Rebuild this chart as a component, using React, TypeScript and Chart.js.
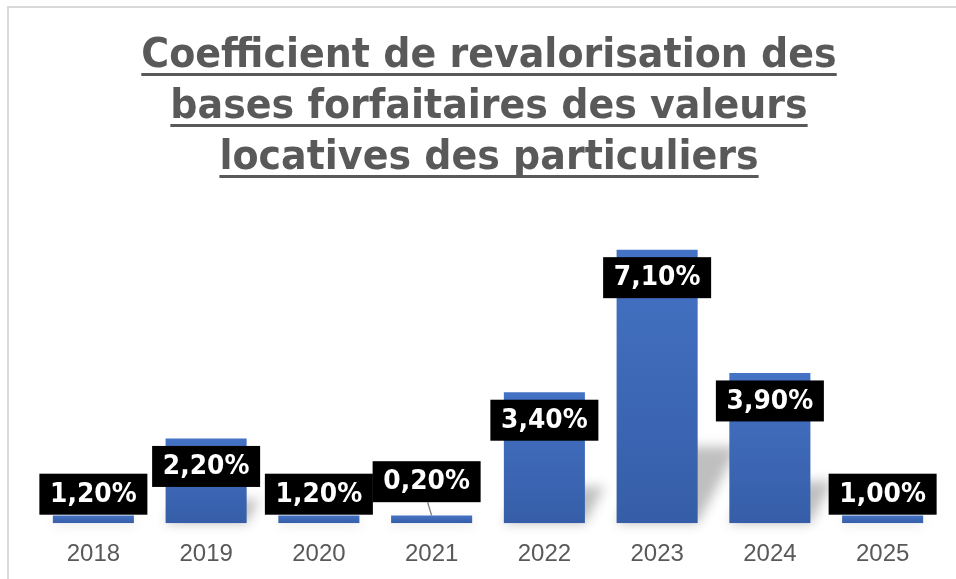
import React, { useEffect, useRef } from "react";
import { Chart, registerables } from "chart.js";

Chart.register(...registerables);

// ---- data ----
const years = ["2018", "2019", "2020", "2021", "2022", "2023", "2024", "2025"];
// bar heights as drawn in the reference (percent)
const barValues = [0.2, 2.2, 0.2, 0.2, 3.4, 7.1, 3.9, 0.2];
// label texts as shown in the reference
const labelTexts = ["1,20%", "2,20%", "1,20%", "0,20%", "3,40%", "7,10%", "3,90%", "1,00%"];
const titleLines = [
  "Coefficient de revalorisation des",
  "bases forfaitaires des valeurs",
  "locatives des particuliers",
];

const W = 956;
const H = 600;

const framePlugin = {
  id: "frameAndTitle",
  beforeDraw(chart: any) {
    const ctx = chart.ctx;
    ctx.save();
    ctx.fillStyle = "#ffffff";
    ctx.fillRect(0, 0, chart.width, chart.height);
    ctx.strokeStyle = "#D9D9D9";
    ctx.lineWidth = 2;
    ctx.strokeRect(8, 7, 2000, 2000);
    ctx.restore();
  },
  afterDraw(chart: any) {
    const ctx = chart.ctx;
    ctx.save();
    ctx.font = "bold 40px 'DejaVu Sans'";
    ctx.fillStyle = "#595959";
    ctx.textAlign = "center";
    ctx.textBaseline = "alphabetic";
    const cx = 489;
    const firstBaseline = 67;
    const lineH = 51;
    const sx = 0.95;
    titleLines.forEach((line, i) => {
      const y = firstBaseline + i * lineH;
      ctx.save();
      ctx.translate(cx, y);
      ctx.scale(sx, 1);
      ctx.fillText(line, 0, 0);
      const w = ctx.measureText(line).width;
      ctx.fillRect(-w / 2, 6, w, 3);
      ctx.restore();
    });
    ctx.restore();
  },
};

const shadowPlugin = {
  id: "barShadow",
  beforeDatasetsDraw(chart: any) {
    const ctx = chart.ctx;
    const meta = chart.getDatasetMeta(0);
    ctx.save();
    ctx.filter = "blur(6px)";
    ctx.fillStyle = "rgba(0,0,0,0.25)";
    meta.data.forEach((bar: any) => {
      const { x, y, base, width } = bar.getProps(["x", "y", "base", "width"], true);
      const h = base - y;
      const s = 0.28 * h;
      const d = 0.15 * h;
      ctx.beginPath();
      ctx.moveTo(x - width / 2, base);
      ctx.lineTo(x + width / 2, base);
      ctx.lineTo(x + width / 2 + d, base - s);
      ctx.lineTo(x - width / 2 + d, base - s);
      ctx.closePath();
      ctx.fill();
    });
    ctx.restore();
  },
};

const labelPlugin = {
  id: "boxLabels",
  afterDatasetsDraw(chart: any, _args: any, opts: any) {
    const ctx = chart.ctx;
    const meta = chart.getDatasetMeta(0);
    const moved: Record<number, [number, number]> = opts.moved || {};
    ctx.save();
    ctx.font = "bold 26px 'DejaVu Sans'";
    ctx.textAlign = "center";
    ctx.textBaseline = "middle";
    meta.data.forEach((bar: any, i: number) => {
      const { x, y, base } = bar.getProps(["x", "y", "base"], true);
      const text = labelTexts[i];
      const off = moved[i] || [0, 0];
      const cx = x + off[0];
      const cy = Math.min(y + 28, base - 29) + off[1];
      const bw = 108;
      const bh = 41;
      if (moved[i]) {
        ctx.strokeStyle = "#7F7F7F";
        ctx.lineWidth = 1.3;
        ctx.beginPath();
        ctx.moveTo(cx + 1, cy + bh / 2);
        ctx.lineTo(x, y);
        ctx.stroke();
      }
      ctx.fillStyle = "#000000";
      ctx.fillRect(cx - bw / 2, cy - bh / 2, bw, bh);
      ctx.fillStyle = "#ffffff";
      ctx.save();
      ctx.translate(cx, cy + 1);
      ctx.scale(0.96, 1);
      ctx.fillText(text, 0, 0);
      ctx.restore();
    });
    ctx.restore();
  },
};

export default function App() {
  const ref = useRef<HTMLCanvasElement | null>(null);
  useEffect(() => {
    if (!ref.current) return;
    const chart = new Chart(ref.current, {
      type: "bar",
      data: {
        labels: years,
        datasets: [
          {
            data: barValues,
            backgroundColor: (c: any) => {
              const chart = c.chart;
              const yScale = chart.scales && chart.scales.y;
              if (!yScale || !chart.chartArea || typeof c.raw !== "number") return "#4472C4";
              const top = yScale.getPixelForValue(c.raw);
              const bottom = yScale.getPixelForValue(0);
              if (!isFinite(top) || !isFinite(bottom) || top === bottom) return "#4472C4";
              const g = chart.ctx.createLinearGradient(0, top, 0, bottom);
              g.addColorStop(0, "#4472C4");
              g.addColorStop(1, "#365EA8");
              return g;
            },
            borderWidth: 0,
            categoryPercentage: 1,
            barPercentage: 0.719,
          },
        ],
      },
      options: {
        animation: false,
        responsive: true,
        maintainAspectRatio: false,
        layout: { padding: { left: 37, right: 17, top: 215, bottom: 14 } },
        plugins: {
          legend: { display: false },
          title: { display: false },
          tooltip: { enabled: false },
          boxLabels: { moved: { 3: [-5, -12.5] } },
        } as any,
        scales: {
          x: {
            grid: { display: false, drawTicks: false },
            border: { display: false },
            ticks: {
              color: "#595959",
              font: { family: "'Liberation Sans'", size: 24 },
              padding: 17,
            },
          },
          y: {
            display: false,
            min: 0,
            max: 8,
          },
        },
      },
      plugins: [framePlugin, shadowPlugin, labelPlugin],
    });
    return () => chart.destroy();
  }, []);
  return (
    <div style={{ position: "fixed", left: 0, top: 0, width: W, height: H, background: "#fff" }}>
      <canvas ref={ref} />
    </div>
  );
}
